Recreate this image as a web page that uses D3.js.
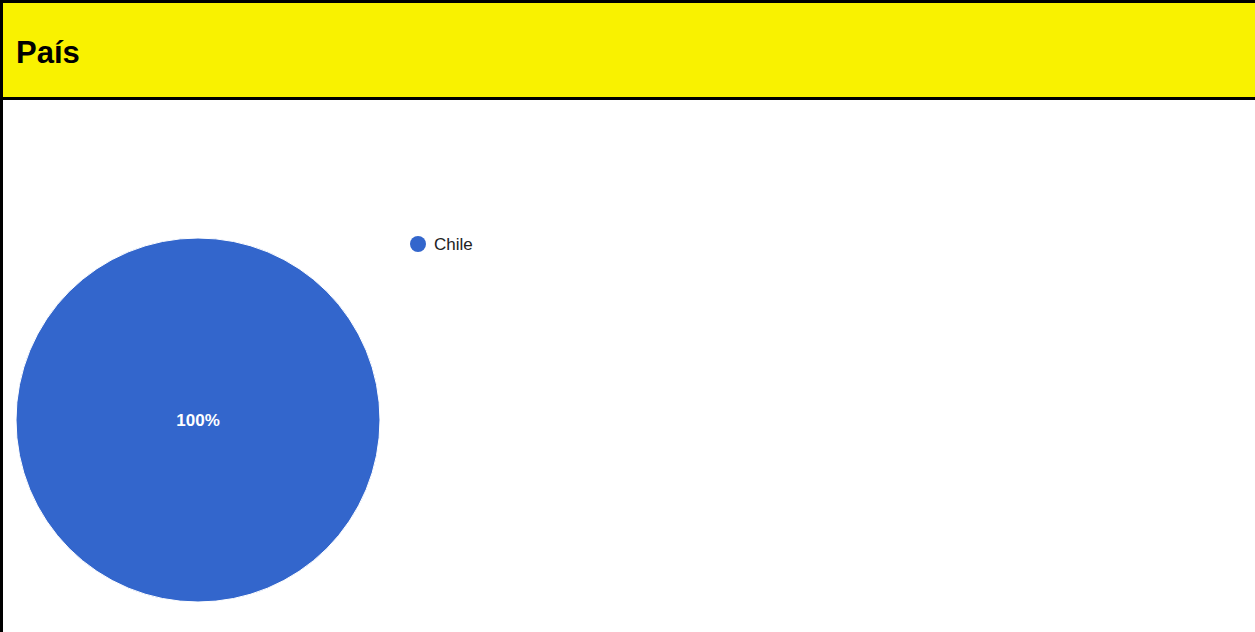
<!DOCTYPE html>
<html>
<head>
<meta charset="utf-8">
<script src="https://cdn.jsdelivr.net/npm/d3@7"></script>
<style>
  body { margin: 0; background: #fff; }
  svg { display: block; }
</style>
</head>
<body>
<div id="chart"></div>
<script>
// data
const labels = ["Chile"];
const values = [100];
const colors = ["#3366cc"];
const title = "País";

const w = 1255, h = 632;
const svg = d3.select("#chart").append("svg")
  .attr("width", w)
  .attr("height", h);

// header
svg.append("rect").attr("x", 0).attr("y", 0).attr("width", w).attr("height", h).attr("fill", "#fff");
svg.append("rect").attr("x", 0).attr("y", 0).attr("width", w).attr("height", 100).attr("fill", "#000");
svg.append("rect").attr("x", 3).attr("y", 3).attr("width", w - 3).attr("height", 94).attr("fill", "#f9f200");
svg.append("rect").attr("x", 0).attr("y", 100).attr("width", 3).attr("height", h - 100).attr("fill", "#000");
svg.append("text")
  .attr("x", 16).attr("y", 63)
  .attr("font-family", "Arial, 'Liberation Sans', sans-serif")
  .attr("font-weight", "bold")
  .attr("font-size", 31)
  .attr("fill", "#000")
  .text(title);

// pie
const cx = 198, cy = 420, r = 182;
const total = d3.sum(values);
const pie = d3.pie().sort(null)(values);
const arc = d3.arc().innerRadius(0).outerRadius(r);
const g = svg.append("g").attr("transform", "translate(" + cx + "," + cy + ")");
g.selectAll("path")
  .data(pie)
  .enter()
  .append("path")
  .attr("d", arc)
  .attr("fill", (d, i) => colors[i])
  .attr("stroke", "#fff")
  .attr("stroke-width", 1);

const fmt = d3.format(".0%");
g.selectAll("text.pct")
  .data(pie)
  .enter()
  .append("text")
  .attr("class", "pct")
  .attr("transform", d => {
    if (d.endAngle - d.startAngle >= 2 * Math.PI - 1e-6) return "translate(0,0)";
    const c = d3.arc().innerRadius(r * 0.6).outerRadius(r * 0.6).centroid(d);
    return "translate(" + c + ")";
  })
  .attr("text-anchor", "middle")
  .attr("dy", "0.35em")
  .attr("font-family", "Arial, 'Liberation Sans', sans-serif")
  .attr("font-size", 17)
  .attr("font-weight", "bold")
  .attr("fill", "#fff")
  .text(d => fmt(d.value / total));

// legend
const legend = svg.append("g").attr("transform", "translate(418,244)");
const items = legend.selectAll("g")
  .data(labels)
  .enter()
  .append("g")
  .attr("transform", (d, i) => "translate(0," + i * 24 + ")");
items.append("circle")
  .attr("r", 8)
  .attr("fill", (d, i) => colors[i]);
items.append("text")
  .attr("x", 16)
  .attr("dy", "0.35em")
  .attr("font-family", "Arial, 'Liberation Sans', sans-serif")
  .attr("font-size", 17)
  .attr("fill", "#222")
  .text(d => d);
</script>
</body>
</html>
